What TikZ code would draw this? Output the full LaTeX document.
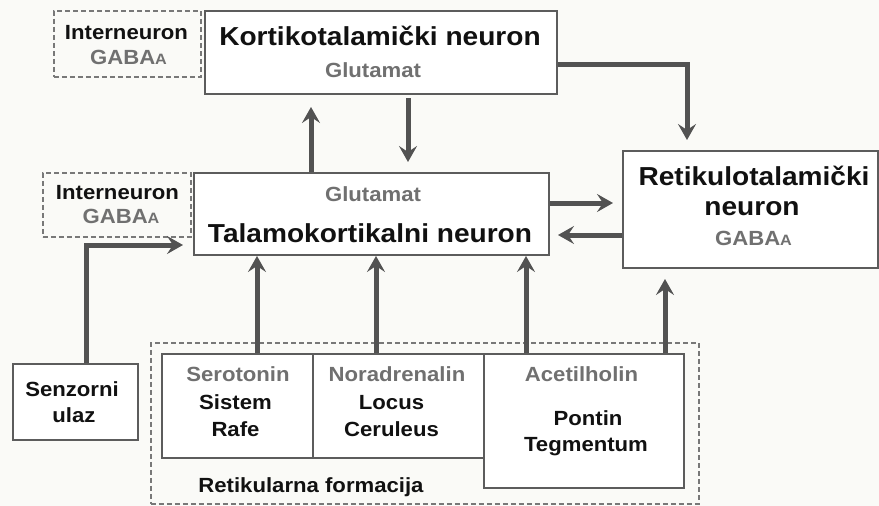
\documentclass[tikz,border=0pt]{standalone}
\usepackage{fontspec}
\setmainfont[FakeStretch=1.08]{Liberation Sans}
\usetikzlibrary{arrows.meta}
\definecolor{bg}{RGB}{250,250,247}
\definecolor{edgec}{RGB}{92,92,92}
\definecolor{arrc}{RGB}{82,82,82}
\definecolor{dashc}{RGB}{120,120,120}
\definecolor{gtxt}{RGB}{112,112,112}
\definecolor{btxt}{RGB}{17,17,17}
\newcommand{\bigfnt}{\fontsize{26}{30}\selectfont\bfseries}
\newcommand{\smfnt}{\fontsize{20.5}{24}\selectfont\bfseries}
\newcommand{\gabaA}{GABA{\fontsize{15}{15}\selectfont A}}
\begin{document}
\begin{tikzpicture}[x=1pt,y=-1pt,
  box/.style={draw=edgec, line width=2pt, fill=white, inner sep=0pt, anchor=north west},
  dbox/.style={draw=dashc, line width=1.5pt, dash pattern=on 5pt off 3pt, inner sep=0pt, anchor=north west},
  arr/.style={draw=arrc, line width=5pt, -{Stealth[length=16pt,width=18pt,inset=6pt]}},
  lbl/.style={text=btxt, font=\smfnt, inner sep=0pt},
  glbl/.style={text=gtxt, font=\smfnt, inner sep=0pt},
  blbl/.style={text=btxt, font=\bigfnt, inner sep=0pt}]
\useasboundingbox[fill=bg] (0,0) rectangle (879,506);

% boxes
\node[box, minimum width=352pt, minimum height=83pt] (kt) at (204,10) {};
\node[box, minimum width=355pt, minimum height=82pt] (tk) at (193,172) {};
\node[box, minimum width=255pt, minimum height=117pt] (rt) at (622,150) {};
\node[dbox, minimum width=147pt, minimum height=66pt] (inA) at (53,10) {};
\node[dbox, minimum width=148pt, minimum height=64pt] (inB) at (42,172) {};
\node[box, minimum width=125pt, minimum height=76pt] (sz) at (12,363) {};
\node[dbox, minimum width=548pt, minimum height=161pt] (rf) at (150,342) {};
\node[box, minimum width=151pt, minimum height=104pt] (ser) at (161,353) {};
\node[box, minimum width=171pt, minimum height=104pt] (nor) at (312,353) {};
\node[box, minimum width=200pt, minimum height=134pt] (ach) at (483,353) {};

% labels
\node[blbl] (ktA) at (380,35.5) {Kortikotalamički neuron};
\node[glbl] (ktB) at (373,70) {Glutamat};
\node[glbl] (tkA) at (373,194) {Glutamat};
\node[blbl] (tkB) at (370,233) {Talamokortikalni neuron};
\node[lbl] (inAa) at (126.5,32.5) {Interneuron};
\node[glbl] (inAb) at (128.5,57) {\gabaA};
\node[lbl] (inBa) at (117.5,192.5) {Interneuron};
\node[glbl] (inBb) at (121,216.5) {\gabaA};
\node[blbl] (rtA) at (754,176) {Retikulotalamički};
\node[blbl] (rtB) at (752,209) {neuron};
\node[glbl] (rtC) at (753.5,238.5) {\gabaA};
\node[lbl] (szA) at (72,389.5) {Senzorni};
\node[lbl] (szB) at (74,415.5) {ulaz};
\node[glbl] (serA) at (238,374.5) {Serotonin};
\node[lbl] (serB) at (235.5,402.5) {Sistem};
\node[lbl] (serC) at (235.5,429.5) {Rafe};
\node[glbl] (norA) at (397,374.5) {Noradrenalin};
\node[lbl] (norB) at (391.5,402.5) {Locus};
\node[lbl] (norC) at (391.5,429.5) {Ceruleus};
\node[glbl] (achA) at (581.5,374.5) {Acetilholin};
\node[lbl] (achB) at (588,418) {Pontin};
\node[lbl] (achC) at (586,447) {Tegmentum};
\node[lbl] (rfA) at (311,487) {Retikularna formacija};

% helper coordinates
\coordinate (xA) at (311,0);
\coordinate (xB) at (408,0);
\coordinate (xC) at (687,0);
\coordinate (xD) at (86,0);
\coordinate (xE) at (257,0);
\coordinate (xF) at (376,0);
\coordinate (xG) at (526,0);
\coordinate (xH) at (665,0);
\coordinate (yA) at (0,64);
\coordinate (yB) at (0,203);
\coordinate (yC) at (0,235);
\coordinate (yD) at (0,245);

% connectors
\draw[arr, shorten >=12pt] (tk.north -| xA) -- (kt.south -| xA);
\draw[arr, shorten <=3pt, shorten >=10pt] (kt.south -| xB) -- (tk.north -| xB);
\draw[arr, shorten >=10pt] (kt.east |- yA) -| (rt.north -| xC);
\draw[arr, shorten >=9pt] (tk.east |- yB) -- (rt.west |- yB);
\draw[arr, shorten >=8pt] (rt.west |- yC) -- (tk.east |- yC);
\draw[arr, shorten >=10pt] (sz.north -| xD) |- (tk.west |- yD);
\draw[arr] (ser.north -| xE) -- (tk.south -| xE);
\draw[arr] (nor.north -| xF) -- (tk.south -| xF);
\draw[arr] (ach.north -| xG) -- (tk.south -| xG);
\draw[arr, shorten >=10pt] (ach.north -| xH) -- (rt.south -| xH);
\end{tikzpicture}
\end{document}
